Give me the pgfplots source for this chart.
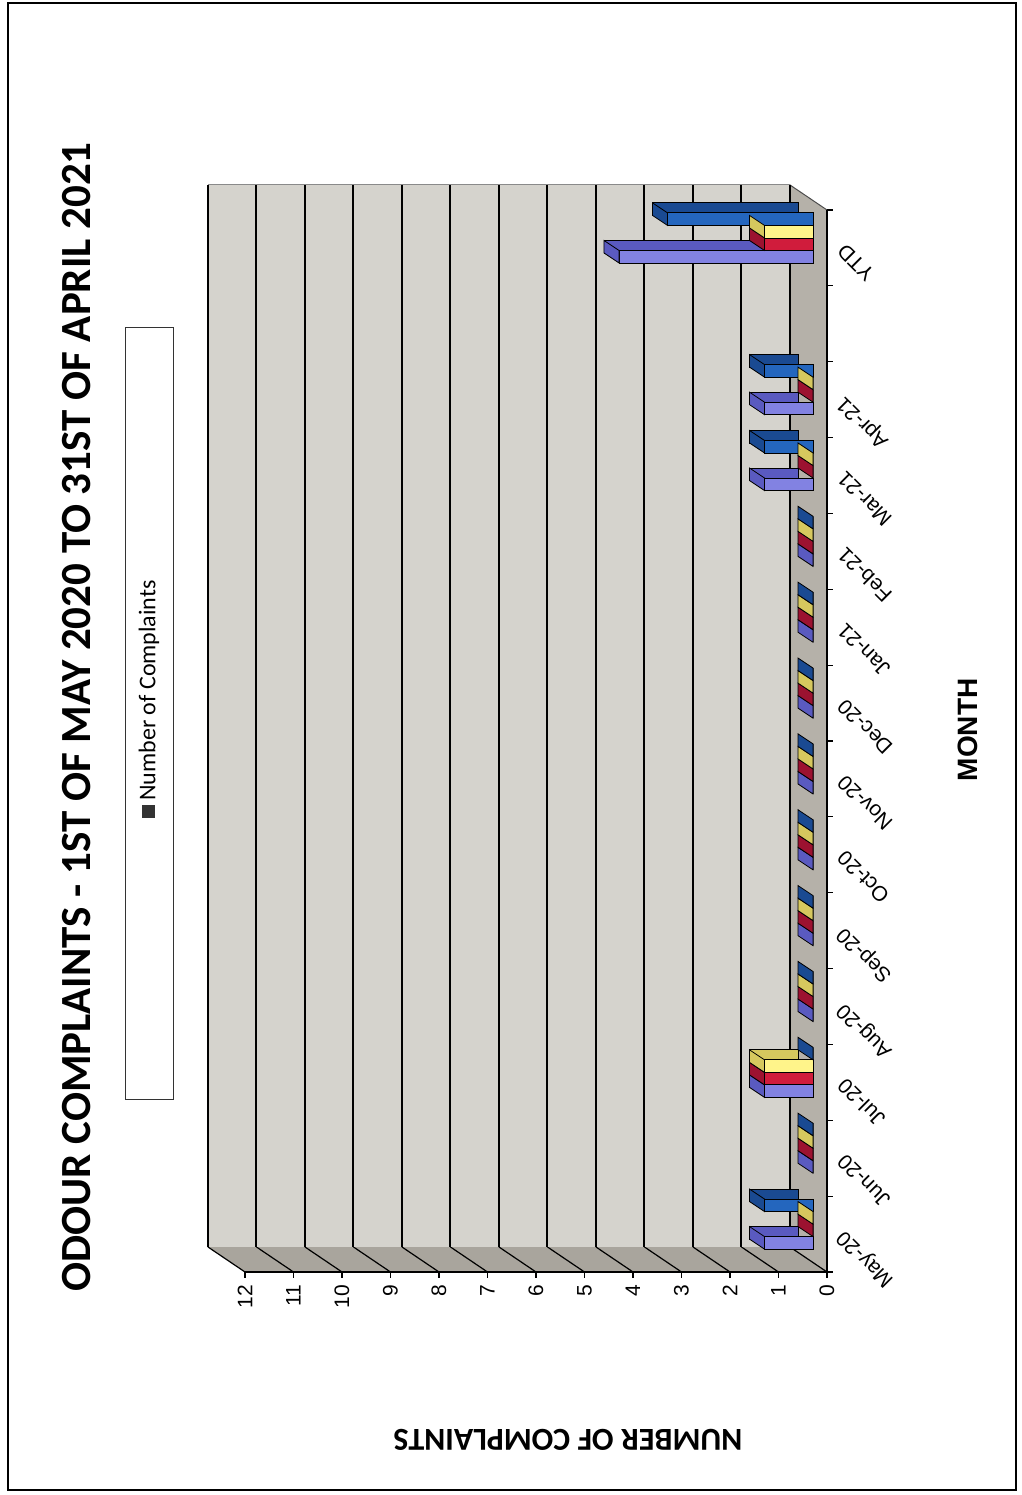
\documentclass[border=0pt]{standalone}
\usepackage{pgfplots}
\pgfplotsset{compat=1.18}
\usepackage{pgfplotstable}
\usepackage{fontspec}
\setmainfont{Liberation Sans}
\newfontfamily\calibri{Carlito}

\definecolor{wallgray}{HTML}{D5D3CD}
\definecolor{floorgray}{HTML}{B5B1A9}
\definecolor{sidegray}{HTML}{A9A59D}
\definecolor{pf}{HTML}{8282E2}
\definecolor{pd}{HTML}{5A5AC0}
\definecolor{rf}{HTML}{D01C3C}
\definecolor{rd}{HTML}{9C1230}
\definecolor{yf}{HTML}{FFF48A}
\definecolor{yd}{HTML}{D6C85E}
\definecolor{bf}{HTML}{2466BE}
\definecolor{bd}{HTML}{1A4A92}

% category index: 0 May-20 ... 11 Apr-21, 12 (gap), 13 YTD
\pgfplotstableread{
cat purple red yellow blue
0 1 0 0 1
1 0 0 0 0
2 1 1 1 0
3 0 0 0 0
4 0 0 0 0
5 0 0 0 0
6 0 0 0 0
7 0 0 0 0
8 0 0 0 0
9 0 0 0 0
10 1 0 0 1
11 1 0 0 1
13 4 1 1 3
}\datatable

% end faces of the 3D bars (depth vector -7.5pt,+5pt)
\pgfdeclareplotmark{efP}{\pgfpathmoveto{\pgfpoint{0pt}{-12.52pt}}\pgfpathlineto{\pgfpoint{0pt}{-6.26pt}}\pgfpathlineto{\pgfpoint{-7.5pt}{-1.26pt}}\pgfpathlineto{\pgfpoint{-7.5pt}{-7.52pt}}\pgfpathclose\pgfusepathqfillstroke}
\pgfdeclareplotmark{efR}{\pgfpathmoveto{\pgfpoint{0pt}{-6.26pt}}\pgfpathlineto{\pgfpoint{0pt}{0pt}}\pgfpathlineto{\pgfpoint{-7.5pt}{5pt}}\pgfpathlineto{\pgfpoint{-7.5pt}{-1.26pt}}\pgfpathclose\pgfusepathqfillstroke}
\pgfdeclareplotmark{efY}{\pgfpathmoveto{\pgfpoint{0pt}{0pt}}\pgfpathlineto{\pgfpoint{0pt}{6.26pt}}\pgfpathlineto{\pgfpoint{-7.5pt}{11.26pt}}\pgfpathlineto{\pgfpoint{-7.5pt}{5pt}}\pgfpathclose\pgfusepathqfillstroke}
\pgfdeclareplotmark{efB}{\pgfpathmoveto{\pgfpoint{0pt}{6.26pt}}\pgfpathlineto{\pgfpoint{0pt}{12.52pt}}\pgfpathlineto{\pgfpoint{-7.5pt}{17.52pt}}\pgfpathlineto{\pgfpoint{-7.5pt}{11.26pt}}\pgfpathclose\pgfusepathqfillstroke}

\pgfplotsset{
  common/.style={scale only axis, width=291pt, height=531pt,
    xmin=0, xmax=12, ymin=-0.5, ymax=13.5, x dir=reverse, anchor=south west},
  barplane/.style={common, hide axis, clip=false},
}

\begin{document}
\begin{tikzpicture}
\useasboundingbox (0,0) rectangle (511pt,747.5pt);
% page frame
\draw[black, line width=0.9pt] (4pt,2.5pt) rectangle (508pt,746pt);

% floor (right) and side wall (bottom)
\fill[floorgray] (395pt,124pt) -- (395pt,655pt) -- (413.5pt,642.5pt) -- (413.5pt,111.5pt) -- cycle;
\fill[sidegray] (104pt,124pt) -- (395pt,124pt) -- (413.5pt,111.5pt) -- (122.5pt,111.5pt) -- cycle;
\foreach \k in {0,...,12}{
  \draw[black, line width=0.6pt] ({395pt-24.25pt*\k},124pt) -- ({413.5pt-24.25pt*\k},111.5pt);
}
\draw[black!70, line width=0.5pt] (104pt,655pt) -- (395pt,655pt) -- (413.5pt,642.5pt);

% back wall with grid
\begin{axis}[common, at={(104pt,124pt)},
  xtick={0,...,12}, ytick=\empty, xticklabels={},
  xmajorgrids, major grid style={black, line width=1pt},
  axis line style={draw=none}, tick style={draw=none},
  axis background/.style={fill=wallgray}]
\end{axis}

% back faces of bars
\begin{axis}[barplane, at={(108pt,121.5pt)}]
\addplot[xbar, bar width=0.165, bar shift=-0.2475, fill=pd, draw=black, line width=0.4pt] table[x=purple, y=cat] {\datatable};
\addplot[xbar, bar width=0.165, bar shift=-0.0825, fill=rd, draw=black, line width=0.4pt] table[x=red, y=cat] {\datatable};
\addplot[xbar, bar width=0.165, bar shift=0.0825, fill=yd, draw=black, line width=0.4pt] table[x=yellow, y=cat] {\datatable};
\addplot[xbar, bar width=0.165, bar shift=0.2475, fill=bd, draw=black, line width=0.4pt] table[x=blue, y=cat] {\datatable};
\end{axis}

% end faces and front faces of bars
\begin{axis}[barplane, at={(115.5pt,116.5pt)}]
\addplot[only marks, mark=efP, mark options={fill=pd, draw=black, line width=0.4pt}] table[x=purple, y=cat] {\datatable};
\addplot[xbar, bar width=0.165, bar shift=-0.2475, fill=pf, draw=black, line width=0.4pt] table[x=purple, y=cat] {\datatable};
\addplot[only marks, mark=efR, mark options={fill=rd, draw=black, line width=0.4pt}] table[x=red, y=cat] {\datatable};
\addplot[xbar, bar width=0.165, bar shift=-0.0825, fill=rf, draw=black, line width=0.4pt] table[x=red, y=cat] {\datatable};
\addplot[only marks, mark=efY, mark options={fill=yd, draw=black, line width=0.4pt}] table[x=yellow, y=cat] {\datatable};
\addplot[xbar, bar width=0.165, bar shift=0.0825, fill=yf, draw=black, line width=0.4pt] table[x=yellow, y=cat] {\datatable};
\addplot[only marks, mark=efB, mark options={fill=bd, draw=black, line width=0.4pt}] table[x=blue, y=cat] {\datatable};
\addplot[xbar, bar width=0.165, bar shift=0.2475, fill=bf, draw=black, line width=0.4pt] table[x=blue, y=cat] {\datatable};
\end{axis}

% front axis lines, value ticks
\begin{axis}[common, at={(122.5pt,111.5pt)},
  axis x line*=bottom, axis y line*=right,
  axis line style={black, line width=0.8pt},
  xtick={0,...,12}, ytick={-0.5,0.5,...,13.5}, yticklabels={},
  tick align=outside, major tick length=3pt, tick style={black, line width=0.6pt},
  xticklabel style={rotate=90, anchor=east, font=\fontsize{10.5}{12}\selectfont},
  /pgf/number format/assume math mode=true]
\end{axis}

% category labels
\begin{axis}[common, at={(122.5pt,111.5pt)},
  axis line style={draw=none}, tick style={draw=none},
  xtick=\empty, ytick={0,...,13},
  yticklabels={May-20,Jun-20,Jul-20,Aug-20,Sep-20,Oct-20,Nov-20,Dec-20,Jan-21,Feb-21,Mar-21,Apr-21,{},YTD},
  yticklabel pos=right,
  yticklabel style={xshift=4.5pt, yshift=2.5pt, rotate=135, anchor=east, font=\fontsize{10.5}{12}\selectfont}]
\end{axis}

% titles
\node[rotate=90, font=\calibri\bfseries\fontsize{21.5}{24}\selectfont] at (38.5pt,389pt)
  {ODOUR COMPLAINTS - 1ST OF MAY 2020 TO 31ST OF APRIL 2021};
\node[rotate=90, font=\bfseries\fontsize{14}{16}\selectfont] at (484pt,382.5pt) {MONTH};
\node[rotate=180, font=\calibri\bfseries\fontsize{16}{18}\selectfont] at (284pt,27.5pt) {NUMBER OF COMPLAINTS};

% legend
\draw[black!80, line width=0.5pt] (62.5pt,197.5pt) rectangle (86.5pt,583.5pt);
\node[rotate=90, font=\calibri\fontsize{12}{14}\selectfont] at (74.5pt,398pt)
  {{\color{black!80}\rule{6.5pt}{6.5pt}}\,Number of Complaints};
\end{tikzpicture}
\end{document}
